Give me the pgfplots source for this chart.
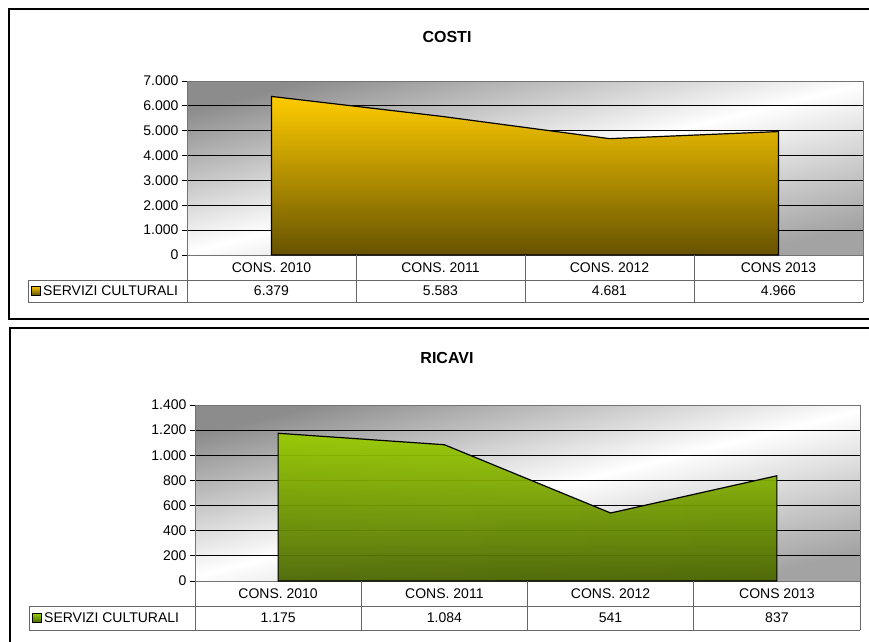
\documentclass[border=0pt]{standalone}
\usepackage{fontspec}
\setmainfont{Liberation Sans}
\usepackage{pgfplots}
\pgfplotsset{compat=1.18}

\definecolor{gold}{HTML}{FFCC00}
\definecolor{golddark}{HTML}{665200}
\definecolor{lime}{HTML}{99CC00}
\definecolor{limedark}{HTML}{4A6600}
\definecolor{tabline}{HTML}{666666}

\pgfplotsset{
  panel/.style={
    scale only axis, anchor=south west,
    xmin=-0.5, xmax=3.5, ymin=0,
    xtick={0,1,2,3}, xticklabels={},
    x tick style={draw=none},
    ytick pos=left, tick align=outside, major tick length=5pt,
    ymajorgrids, grid style={black, line width=0.8pt},
    axis line style={black!55, line width=1pt},
    y tick style={black, line width=0.8pt},
    tick label style={font=\fontsize{14}{16}\selectfont},
    /pgf/number format/assume math mode=true,
    yticklabel style={/pgf/number format/1000 sep={.}},
    scaled y ticks=false,
    axis background/.style={shade, top color=black!45, bottom color=black!36,
      middle color=white, shading angle=14},
    clip=false,
  },
}

\begin{document}
\begin{tikzpicture}
\useasboundingbox (0,0) rectangle (869pt,641pt);

% ---------- COSTI ----------
\draw[line width=1.5pt] (9pt,632pt) rectangle (885pt,322pt);
\node[font=\fontsize{16}{18}\selectfont\bfseries] at (447pt,604pt) {COSTI};

\begin{axis}[panel, at={(187pt,386pt)}, width=676pt, height=174pt,
  ymax=7000, ytick={0,1000,...,7000}]
  \addplot[draw=black, line width=1.2pt, top color=gold, bottom color=golddark]
    coordinates {(0,0) (0,6379) (1,5583) (2,4681) (3,4966) (3,0)} -- cycle;
\end{axis}

\begin{scope}[draw=tabline, line width=0.8pt]
  \draw (28pt,361pt) -- (863pt,361pt);
  \draw (28pt,339pt) -- (863pt,339pt);
  \draw (28pt,361pt) -- (28pt,339pt);
  \foreach \x in {187,356,525,694,863} \draw (\x pt,386pt) -- (\x pt,339pt);
\end{scope}
\begin{scope}[font=\fontsize{14}{16}\selectfont]
  \node at (271.5pt,373.5pt) {CONS. 2010};
  \node at (440.5pt,373.5pt) {CONS. 2011};
  \node at (609.5pt,373.5pt) {CONS. 2012};
  \node at (778.5pt,373.5pt) {CONS 2013};
  \node at (271.5pt,350pt) {6.379};
  \node at (440.5pt,350pt) {5.583};
  \node at (609.5pt,350pt) {4.681};
  \node at (778.5pt,350pt) {4.966};
  \draw[black, line width=0.8pt, top color=gold, bottom color=golddark]
    (31pt,346pt) rectangle (40pt,355pt);
  \node[anchor=west, inner sep=0pt] at (43pt,350pt) {SERVIZI CULTURALI};
\end{scope}

% ---------- RICAVI ----------
\draw[line width=1.5pt] (10pt,313pt) rectangle (885pt,-20pt);
\node[font=\fontsize{16}{18}\selectfont\bfseries] at (447pt,283.5pt) {RICAVI};

\begin{axis}[panel, at={(195pt,60pt)}, width=665pt, height=176pt,
  ymax=1400, ytick={0,200,...,1400}]
  \addplot[draw=black, line width=1.2pt, top color=lime, bottom color=limedark,
    fill opacity=0.94]
    coordinates {(0,0) (0,1175) (1,1084) (2,541) (3,837) (3,0)} -- cycle;
\end{axis}

\begin{scope}[draw=tabline, line width=0.8pt]
  \draw (29pt,35pt) -- (860pt,35pt);
  \draw (29pt,11pt) -- (860pt,11pt);
  \draw (29pt,35pt) -- (29pt,11pt);
  \foreach \x in {195,361.25,527.5,693.75,860} \draw (\x pt,60pt) -- (\x pt,11pt);
\end{scope}
\begin{scope}[font=\fontsize{14}{16}\selectfont]
  \node at (278.1pt,47.5pt) {CONS. 2010};
  \node at (444.4pt,47.5pt) {CONS. 2011};
  \node at (610.6pt,47.5pt) {CONS. 2012};
  \node at (776.9pt,47.5pt) {CONS 2013};
  \node at (278.1pt,23pt) {1.175};
  \node at (444.4pt,23pt) {1.084};
  \node at (610.6pt,23pt) {541};
  \node at (776.9pt,23pt) {837};
  \draw[black, line width=0.8pt, top color=lime, bottom color=limedark]
    (32pt,18.5pt) rectangle (41pt,27.5pt);
  \node[anchor=west, inner sep=0pt] at (44pt,23pt) {SERVIZI CULTURALI};
\end{scope}
\end{tikzpicture}
\end{document}
